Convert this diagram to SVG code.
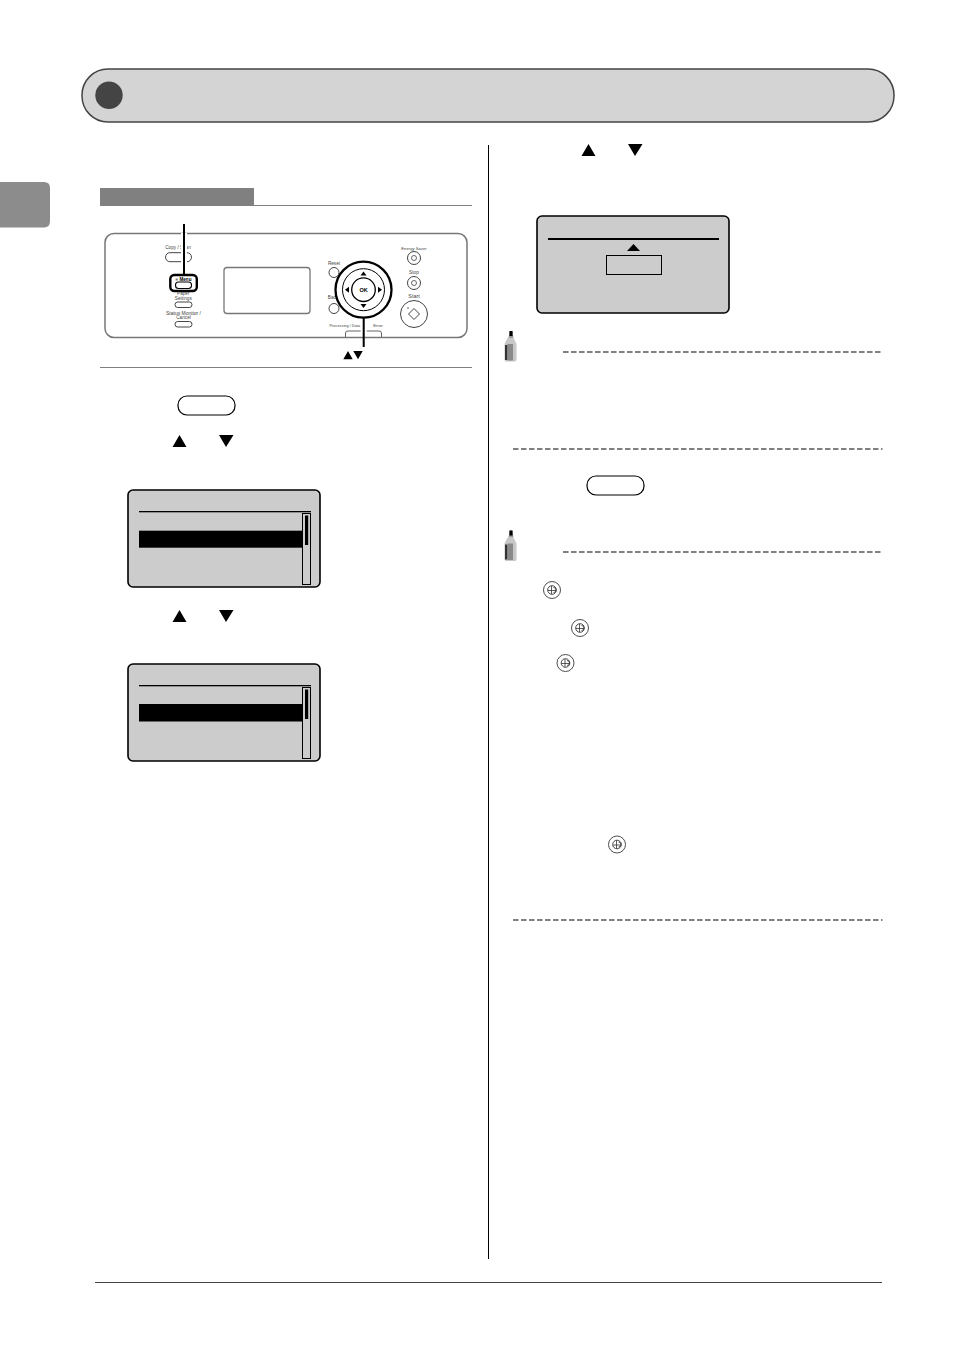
<svg xmlns="http://www.w3.org/2000/svg" width="954" height="1350" viewBox="0 0 954 1350">
<defs>
<style>
.lcd{fill:#ccc;stroke:#000;stroke-width:1.600}
.dash{stroke:#808080;stroke-width:2;stroke-dasharray:5.500 2.500;fill:none}
.hr{stroke:#808080;stroke-width:1;fill:none}
.k{fill:#000}
.btn{fill:#fff;stroke:#000;stroke-width:1.200}
.thin{fill:#fff;stroke:#444;stroke-width:1}
.tiny{font-family:"Liberation Sans",Arial,sans-serif;fill:#444;text-anchor:middle}
</style>
<g id="pencil"><path d="M1 30.500L0 29V13L3 7H9L12 13V29L11 30.500Z" fill="#c8c8c8"/><path d="M4 7L5 0H8L9 7Z" fill="#999"/><rect x="5" y="0" width="3" height="5" class="k"/><path d="M0.500 14H3V29H0.500Z" fill="#333"/><path d="M3 13H8.500V29.500H3Z" fill="#8a8a8a"/></g>
<g id="energy"><circle cx="0" cy="0" r="8.500" fill="#fff" stroke="#222" stroke-width=".8"/><circle cx="0" cy="0" r="4.300" fill="none" stroke="#333" stroke-width=".9"/><path d="M-.5 -4V4M-4 .5H4M1.500 -2.500A2 2 0 0 1 1.500 2.500" stroke="#333" stroke-width=".8" fill="none"/></g>
<g id="scr"><rect x="0" y="0" width="192" height="97" rx="5" class="lcd"/><rect x="11" y="21" width="172" height="1.300" class="k"/><rect x="174.500" y="23.500" width="8" height="71" fill="none" stroke="#000"/><rect x="177" y="25.500" width="3.200" height="29.500" class="k"/></g>
</defs>
<rect width="954" height="1350" fill="#fff"/>

<g id="banner"><rect x="82" y="69" width="812" height="53" rx="26" fill="#d4d4d4" stroke="#444" stroke-width="1.500"/><circle cx="109" cy="95.300" r="13.700" fill="#444"/></g>
<g id="tab"><path d="M0 182H44Q50 182 50 188V221Q50 227.500 44 227.500H0Z" fill="#8c8c8c"/></g>

<g id="left-head"><rect x="100" y="188" width="154" height="18" fill="#808080"/><path class="hr" d="M100 205.500H472"/><path class="hr" d="M100 367.500H472"/></g>

<g id="panel">
<rect x="105" y="233.500" width="362" height="104" rx="9" fill="#fff" stroke="#777" stroke-width="1.500"/>
<rect x="224" y="267.500" width="86" height="46" rx="3" fill="#fff" stroke="#777" stroke-width="1.300"/>
<text class="tiny" font-size="4.700" x="178" y="248.500">Copy / Scan</text>
<rect x="165.500" y="252.700" width="26" height="9" rx="4.500" class="thin"/>
<text class="tiny" font-size="4.700" x="183.300" y="294.500">Paper</text><text class="tiny" font-size="4.700" x="183.300" y="299.500">Settings</text>
<rect x="175" y="302" width="17" height="5.500" rx="2.700" class="thin"/>
<text class="tiny" font-size="5" x="183.500" y="314.500">Status Monitor /</text><text class="tiny" font-size="4.700" x="183.500" y="319">Cancel</text>
<rect x="175" y="321.500" width="17" height="5.500" rx="2.700" class="thin"/>
<text class="tiny" font-size="4.700" x="334" y="265">Reset</text>
<circle cx="334" cy="272.500" r="5" class="thin"/>
<text class="tiny" font-size="4.700" x="333" y="299">Back</text>
<circle cx="334" cy="308.500" r="5" class="thin"/>
<text class="tiny" font-size="4.200" x="414" y="249.500">Energy Saver</text>
<circle cx="414" cy="258" r="6.500" class="thin"/><circle cx="414" cy="258" r="2.500" fill="none" stroke="#444" stroke-width=".8"/>
<text class="tiny" font-size="4.800" x="414" y="274">Stop</text>
<circle cx="414" cy="283" r="6.500" class="thin"/><circle cx="414" cy="283" r="2.500" fill="none" stroke="#444" stroke-width=".8"/>
<text class="tiny" font-size="5.400" x="414" y="298">Start</text>
<circle cx="414" cy="314" r="13.500" class="thin"/><path d="M414 308.500L419.500 314L414 319.500L408.500 314Z" fill="none" stroke="#444"/><circle cx="408" cy="308" r=".8" fill="#444"/>
<text class="tiny" font-size="3.900" x="344.800" y="326.500">Processing / Data</text><text class="tiny" font-size="4.300" x="378" y="326.500">Error</text>
<path d="M345.500 337V333Q345.500 331 348 331H379Q381.500 331 381.500 333V337" fill="none" stroke="#666"/>
<rect x="170.300" y="275" width="26.500" height="16" rx="4" fill="#fff" stroke="#000" stroke-width="2.400"/>
<rect x="175.500" y="282" width="16" height="6.500" rx="3" fill="#fff" stroke="#000" stroke-width="1.100"/>
<text x="183.500" y="280.500" font-family="Liberation Sans,Arial,sans-serif" font-size="4.600" font-weight="bold" text-anchor="middle">≡ Menu</text>
<circle cx="363.500" cy="289.700" r="28" fill="#fff" stroke="#000" stroke-width="2.300"/>
<circle cx="363.500" cy="289.700" r="21" fill="#fff" stroke="#000" stroke-width="1"/>
<circle cx="363.500" cy="289.700" r="11.800" fill="#fff" stroke="#000" stroke-width="1.300"/>
<text x="363.500" y="291.700" font-family="Liberation Sans,Arial,sans-serif" font-size="5.500" font-weight="bold" text-anchor="middle">OK</text>
<path class="k" d="M363.500 271.500L366.500 275.500H360.500ZM363.500 308L366.500 304H360.500ZM345 289.700L349 286.700V292.700ZM382 289.700L378 286.700V292.700Z"/>
<path d="M184 233V263M363.700 326V334" stroke="#fff" stroke-width="6" fill="none"/>
<path d="M184 224V275M363.700 318V347" stroke="#000" stroke-width="2" fill="none"/>
<path class="k" d="M343.300 359.300L348 351L352.700 359.300ZM353.300 351H362.700L358 359.300Z"/>
</g>

<g id="step1-button"><rect x="178" y="396" width="57" height="19" rx="9" class="btn"/></g>
<g id="step2-arrows"><path class="k" d="M172.500 447L179.500 435L186.500 447ZM219 435H233.500L226 447Z"/></g>
<g id="screen-1"><use href="#scr" x="128" y="490"/><rect x="139" y="530.700" width="163.500" height="17" class="k"/></g>
<g id="step3-arrows"><path class="k" d="M172.500 622L179.500 610L186.500 622ZM219 610H233.500L226 622Z"/></g>
<g id="screen-2"><use href="#scr" x="128" y="664"/><rect x="139" y="704" width="163.500" height="17.500" class="k"/></g>

<rect id="divider" x="488" y="145" width="1" height="1114" class="k"/>

<g id="step4-arrows"><path class="k" d="M581.500 156L588.500 144L595.500 156ZM628 144H642.500L635 156Z"/></g>
<g id="screen-3"><rect x="537" y="216" width="192" height="97" rx="5" class="lcd"/><rect x="548" y="238" width="171" height="2" class="k"/><path class="k" d="M627 251L633.500 244L640 251Z"/><rect x="606.500" y="255.500" width="55" height="19" fill="none" stroke="#000"/></g>

<g id="note-1"><use href="#pencil" x="504.500" y="331"/><path class="dash" d="M563 352H882"/></g>
<path class="dash" id="note-1-end" d="M513 449H882.500"/>
<g id="step5-button"><rect x="587" y="476" width="57" height="19" rx="9" class="btn"/></g>
<g id="note-2"><use href="#pencil" x="504.500" y="530.500"/><path class="dash" d="M563 552H882"/></g>
<use id="energy-1" href="#energy" x="552" y="590"/>
<use id="energy-2" href="#energy" x="580" y="628"/>
<use id="energy-3" href="#energy" x="565.500" y="663"/>
<use id="energy-4" href="#energy" x="617" y="844.500"/>
<path class="dash" id="note-2-end" d="M513 920H882.500"/>

<rect id="footer" x="95" y="1282" width="787" height="1" fill="#444"/>
</svg>
